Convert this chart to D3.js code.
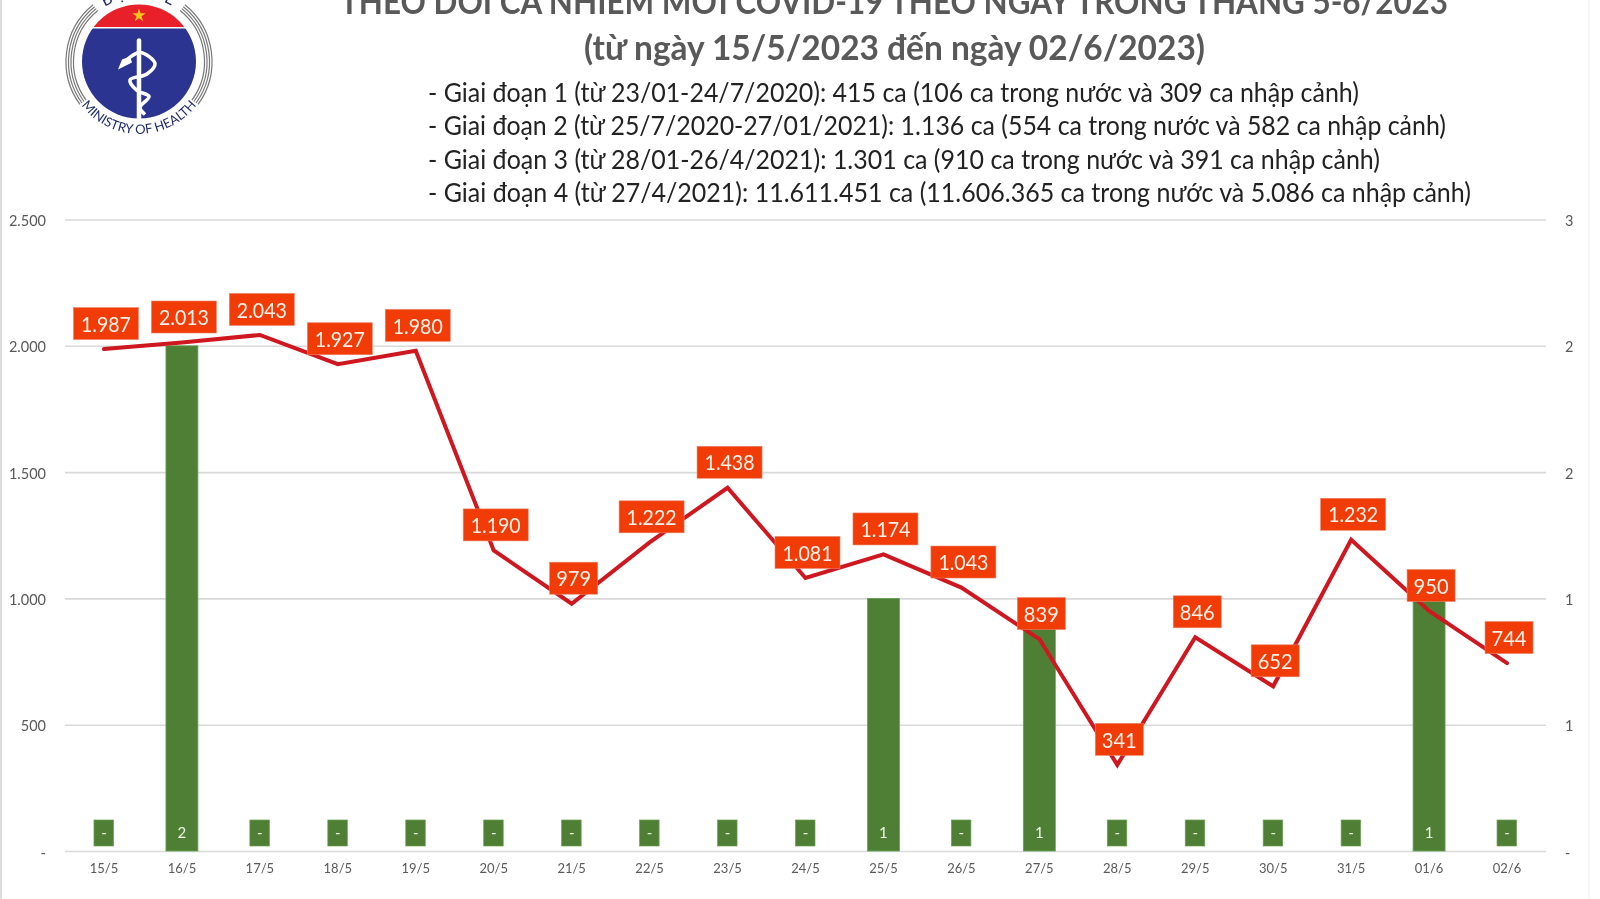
<!DOCTYPE html>
<html lang="vi"><head><meta charset="utf-8">
<style>html,body{margin:0;padding:0;background:#fff;overflow:hidden}svg{display:block;filter:blur(0.4px)}</style>
<script src="https://cdn.jsdelivr.net/npm/d3@7/dist/d3.min.js"></script>
</head><body><svg id="c" width="1600" height="899"></svg>
<script>
const dates=["15/5","16/5","17/5","18/5","19/5","20/5","21/5","22/5","23/5","24/5","25/5","26/5","27/5","28/5","29/5","30/5","31/5","01/6","02/6"];
const cases=[1987,2013,2043,1927,1980,1190,979,1222,1438,1081,1174,1043,839,341,846,652,1232,950,744];
const deaths=[0,2,0,0,0,0,0,0,0,0,1,0,1,0,0,0,0,1,0];
const leftTicks=[0,500,1000,1500,2000,2500];
const rightTicks=[0,0.5,1,1.5,2,2.5];
const titleLines=["THEO DÕI CA NHIỄM MỚI COVID-19 THEO NGÀY TRONG THÁNG 5-6/2023","(từ ngày 15/5/2023 đến ngày 02/6/2023)"];
const noteLines=[
"- Giai đoạn 1 (từ 23/01-24/7/2020): 415 ca (106 ca trong nước và 309 ca nhập cảnh)",
"- Giai đoạn 2 (từ 25/7/2020-27/01/2021): 1.136 ca (554 ca trong nước và 582 ca nhập cảnh)",
"- Giai đoạn 3 (từ 28/01-26/4/2021): 1.301 ca (910 ca trong nước và 391 ca nhập cảnh)",
"- Giai đoạn 4 (từ 27/4/2021): 11.611.451 ca (11.606.365 ca trong nước và 5.086 ca nhập cảnh)"];

const FONT='Lato,"Noto Sans",sans-serif';
const svg=d3.select("#c").style("font-family",FONT);
const dot=v=>d3.format(",")(v).replace(/,/g,".");
const x=d3.scaleBand().domain(dates).range([65,1546]).paddingInner(0.59).paddingOuter(0.295);
const y=d3.scaleLinear().domain([0,2500]).range([851,219.5]);
const y2=d3.scaleLinear().domain([0,2.5]).range([851,219.5]);
const cx=d=>x(d)+x.bandwidth()/2;

svg.append("rect").attr("width",1600).attr("height",899).attr("fill","#fff");
svg.append("line").attr("x1",1).attr("x2",1).attr("y1",0).attr("y2",899).attr("stroke","#dcdcdc").attr("stroke-width",2);
svg.append("line").attr("x1",1589).attr("x2",1589).attr("y1",0).attr("y2",899).attr("stroke","#f3f3f3").attr("stroke-width",1.5);

// grid + axes
const gl=svg.append("g").attr("transform","translate(65,0)")
 .call(d3.axisLeft(y).tickValues(leftTicks).tickSize(-1481).tickPadding(19).tickFormat(v=>v===0?"-":dot(v)));
gl.select(".domain").remove();
gl.selectAll("line").attr("stroke","#d9d9d9").attr("stroke-width",1.6);
gl.selectAll("text").attr("fill","#595959").attr("font-size",14.5).attr("font-family",FONT).attr("dy","0.42em");
const gr=svg.append("g").attr("transform","translate(1546,0)")
 .call(d3.axisRight(y2).tickValues(rightTicks).tickSize(0).tickPadding(19).tickFormat(v=>v===0?"-":Math.round(v)));
gr.select(".domain").remove();
gr.selectAll("text").attr("fill","#595959").attr("font-size",14.5).attr("font-family",FONT).attr("dy","0.42em");
const gx=svg.append("g").attr("transform","translate(0,851)")
 .call(d3.axisBottom(x).tickSize(0).tickPadding(13));
gx.select(".domain").remove();
gx.selectAll("text").attr("fill","#595959").attr("font-size",13).attr("font-family",FONT);

// bars
svg.append("g").selectAll("rect").data(dates).join("rect")
 .attr("x",d=>x(d)).attr("width",x.bandwidth())
 .attr("y",(d,i)=>y2(deaths[i])).attr("height",(d,i)=>y2(0)-y2(deaths[i]))
 .attr("fill","#4f7f35").attr("stroke","#62a552").attr("stroke-width",0.8);
// bar labels
const bl=svg.append("g").selectAll("g").data(dates).join("g")
 .attr("transform",d=>`translate(${cx(d)},833)`);
bl.filter((d,i)=>deaths[i]===0).append("rect").attr("x",-10).attr("y",-13).attr("width",19.5).attr("height",26)
 .attr("fill","#4f7f35").attr("stroke","#6aa052").attr("stroke-width",0.7);
bl.append("text").attr("text-anchor","middle").attr("dy","0.36em").attr("fill","#f1f7ea").attr("font-size",15)
 .text((d,i)=>deaths[i]===0?"-":deaths[i]);

// line
const line=d3.line().x(d=>cx(d)).y((d,i)=>y(cases[i]));
svg.append("path").datum(dates).attr("d",line).attr("fill","none").attr("stroke","#cf1720")
 .attr("stroke-width",4).attr("stroke-linejoin","miter").attr("stroke-linecap","round");
// line labels
const ll=svg.append("g").selectAll("g").data(dates).join("g")
 .attr("transform",(d,i)=>`translate(${cx(d)+2},${y(cases[i])-25.5})`);
ll.append("rect").attr("x",(d,i)=>cases[i]>=1000?-32.5:-24).attr("y",-16)
 .attr("width",(d,i)=>cases[i]>=1000?65:48).attr("height",32).attr("fill","#f23c08").attr("stroke","#e8846a").attr("stroke-width",0.6);
ll.append("text").attr("text-anchor","middle").attr("dy","0.38em").attr("fill","#fdf1e8").attr("font-size",21.5)
 .attr("textLength",(d,i)=>cases[i]>=1000?50:35).attr("lengthAdjust","spacingAndGlyphs")
 .text((d,i)=>dot(cases[i]));

// titles
const tl=[[340,1448,14],[584,1205,60]];
svg.append("g").selectAll("text").data(titleLines).join("text")
 .attr("x",(d,i)=>tl[i][0]).attr("y",(d,i)=>tl[i][2]).attr("textLength",(d,i)=>tl[i][1]-tl[i][0])
 .attr("lengthAdjust","spacingAndGlyphs").attr("font-size",35).attr("font-weight",700).attr("fill","#595959").text(d=>d);
const nl=[1359,1446,1380,1471];
svg.append("g").selectAll("text").data(noteLines).join("text")
 .attr("x",428).attr("y",(d,i)=>102+33.3*i).attr("textLength",(d,i)=>nl[i]-428)
 .attr("lengthAdjust","spacingAndGlyphs").attr("font-size",26.5).attr("fill","#222").text(d=>d);

// logo (decorative)
const logo=svg.append("g").attr("transform","translate(139,61.5)");
const defs=svg.append("defs");
defs.append("clipPath").attr("id","oval").append("circle").attr("r",57);
defs.append("path").attr("id","arcB").attr("d","M-58,43 A72,72 0 0 0 58,43");
defs.append("path").attr("id","arcT").attr("d","M-38,-52 A64,64 0 0 1 38,-52");
[65.5,68,70.5,73].forEach(r=>{
 const a=d3.arc().innerRadius(r).outerRadius(r);
 logo.append("path").attr("d",a({startAngle:-2.2,endAngle:-0.68})).attr("fill","none").attr("stroke","#777").attr("stroke-width",1.2);
 logo.append("path").attr("d",a({startAngle:0.68,endAngle:2.2})).attr("fill","none").attr("stroke","#777").attr("stroke-width",1.2);
});
const og=logo.append("g").attr("clip-path","url(#oval)");
og.append("rect").attr("x",-58).attr("y",-33).attr("width",116).attr("height",92).attr("fill","#2b3490");
og.append("rect").attr("x",-58).attr("y",-58).attr("width",116).attr("height",23.5).attr("fill","#e8202a");
logo.append("path").attr("d",d3.symbol().type(d3.symbolStar).size(55)()).attr("transform","translate(0,-46)").attr("fill","#f6c51c");
logo.append("line").attr("x1",0).attr("x2",0).attr("y1",-21).attr("y2",57).attr("stroke","#fff").attr("stroke-width",4.5).attr("stroke-linecap","round");
const snake=d3.line().curve(d3.curveCatmullRom);
logo.append("path").attr("d",snake([[-14,0],[1,-9],[16,2],[8,12.5],[-9,18.5],[-2,29],[10,35],[1,46],[6,53]]))
 .attr("fill","none").attr("stroke","#fff").attr("stroke-width",3.6);
logo.append("path").attr("d","M-21,8 L-17,-2 L-9,-5 L-7,1 Z").attr("fill","#fff");
logo.append("text").append("textPath").attr("href","#arcB").attr("startOffset","50%").attr("text-anchor","middle")
 .attr("font-size",13).attr("fill","#1f2a6e").attr("font-family",FONT).text("MINISTRY OF HEALTH");
logo.append("text").append("textPath").attr("href","#arcT").attr("startOffset","50%").attr("text-anchor","middle")
 .attr("font-size",16).attr("letter-spacing",2).attr("fill","#1f2a6e").attr("font-family",FONT).text("BỘ Y TẾ");
</script></body></html>
